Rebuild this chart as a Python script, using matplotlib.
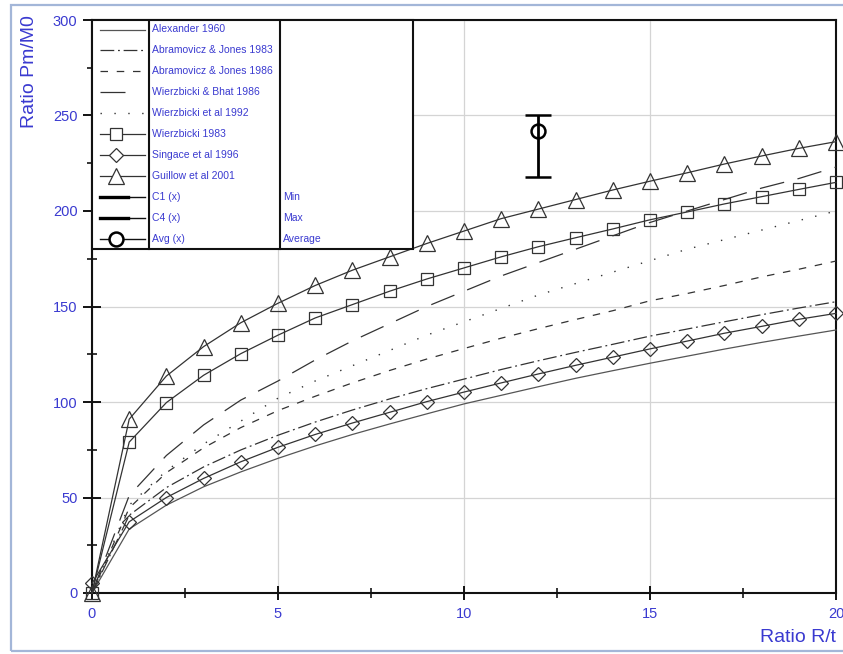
import matplotlib.pyplot as plt
from matplotlib.patches import Rectangle
from matplotlib.lines import Line2D

plt.rcParams['font.family'] = ['Liberation Sans', 'DejaVu Sans']

# collapse load ratio Pm/M0 against tube ratio R/t
ratio_rt = list(range(21))

alexander_1960 = [0, 33.5, 46, 55.6, 63.4, 70.5, 77, 83, 88.5, 93.8, 99, 103.5,
                  108, 112.4, 116.4, 120.3, 124, 127.7, 131.2, 134.5, 137.7]
abramowicz_jones_1983 = [0, 40.7, 55.2, 66, 74.9, 82.6, 89.5, 95.8, 101.6, 107, 112,
                         117, 121.6, 126, 130.2, 134.5, 138.2, 142, 145.7, 149.2, 152.5]
abramowicz_jones_1986 = [0, 44.5, 63, 76, 86.6, 95.5, 103, 110, 116.5, 122.5, 128,
                         133.4, 138.4, 143.2, 147.8, 153, 156.8, 161, 165.5, 169.5, 173.8]
wierzbicki_bhat_1986 = [0, 51, 72, 88, 101, 111, 122, 132, 141, 150, 158, 166,
                        173, 180, 187, 194, 200, 206, 212, 217, 223]
wierzbicki_1992 = [0, 46, 64, 78, 90, 102, 111, 119, 127, 135, 142, 149,
                   156, 162, 168, 174, 180, 185, 190, 195, 200]
wierzbicki_1983 = [0, 79, 99.7, 114, 125.3, 135, 144, 151, 158, 164.4, 170.2, 176,
                   181.3, 186, 190.6, 195.4, 199.5, 203.7, 207.5, 211.3, 215]
singace_1996 = [5, 37.3, 50, 60, 68.7, 76.3, 83, 89, 94.6, 100.2, 105.2, 110,
                114.7, 119.2, 123.5, 127.8, 131.9, 136, 139.6, 143.3, 146.4]
guillow_2001 = [0, 91, 113.6, 129, 141.5, 151.7, 161, 169, 176, 183, 189.5, 196,
                201, 206, 211, 215.6, 220, 224.6, 228.8, 232.8, 236.3]

# experimental result: average with min (C1) and max (C4)
test_rt = 12
test_min = 218
test_max = 250
test_avg = 242

series_names = ["Alexander 1960", "Abramovicz & Jones 1983", "Abramovicz & Jones 1986",
                "Wierzbicki & Bhat 1986", "Wierzbicki et al 1992", "Wierzbicki 1983",
                "Singace et al 1996", "Guillow et al 2001"]
series_values = [alexander_1960, abramowicz_jones_1983, abramowicz_jones_1986,
                 wierzbicki_bhat_1986, wierzbicki_1992, wierzbicki_1983,
                 singace_1996, guillow_2001]
test_names = ["C1 (x)", "C4 (x)", "Avg (x)"]
test_notes = ["Min", "Max", "Average"]

blue = '#3a3ad0'
ink = '#333333'
series_styles = [
    dict(color='#555555', lw=0.9, ls='-'),
    dict(color=ink, lw=0.9, ls=(0, (11, 3, 1.5, 3))),
    dict(color=ink, lw=0.9, ls=(0, (6, 7))),
    dict(color=ink, lw=0.9, ls=(0, (20, 11))),
    dict(color=ink, lw=1.0, ls=(0, (1, 9))),
    dict(color=ink, lw=0.9, ls='-', marker='s', ms=8, mfc='none', mec=ink, mew=0.9),
    dict(color=ink, lw=0.9, ls='-', marker='D', ms=7.5, mfc='none', mec=ink, mew=0.9),
    dict(color=ink, lw=0.9, ls='-', marker='^', ms=12, mfc='none', mec=ink, mew=0.9),
]

fig = plt.figure(figsize=(8.43, 6.54), dpi=100)
ax = fig.add_axes([92 / 843, 61 / 654, 744 / 843, 573 / 654])

for vals, style in zip(series_values, series_styles):
    ax.plot(ratio_rt, vals, **style, zorder=3, clip_on=False)

ax.errorbar([test_rt], [test_avg],
            yerr=[[test_avg - test_min], [test_max - test_avg]],
            fmt='o', ms=10, mfc='none', mec='black', mew=1.8, color='black',
            elinewidth=2, capsize=9.5, capthick=2, zorder=4)

ax.set_xlim(0, 20)
ax.set_ylim(0, 300)
ax.set_xticks([0, 5, 10, 15, 20])
ax.set_xticks([2.5, 7.5, 12.5, 17.5], minor=True)
ax.set_yticks(range(0, 301, 50))
ax.set_yticks(range(25, 300, 50), minor=True)
ax.grid(True, which='major', color='#d4d4d4', lw=0.9, zorder=0)
ax.set_axisbelow(True)

for side in ['left', 'bottom', 'top', 'right']:
    ax.spines[side].set_linewidth(1.5)
    ax.spines[side].set_color('#111111')

ax.tick_params(axis='y', which='major', direction='inout', length=13, width=1.3,
               labelsize=10.5, labelcolor=blue, pad=4)
ax.tick_params(axis='y', which='minor', direction='inout', length=7, width=1.1)
ax.tick_params(axis='x', which='major', direction='inout', length=10, width=1.3,
               labelsize=10.5, labelcolor=blue, pad=5)
ax.tick_params(axis='x', which='minor', direction='inout', length=7, width=1.1)

ax.text(-62 / 744, 1.009, "Ratio Pm/M0", rotation=90, ha='center', va='top',
        fontsize=14, color=blue, transform=ax.transAxes)
ax.text(1.0, -44 / 573, "Ratio R/t", ha='right', va='center',
        fontsize=14, color=blue, transform=ax.transAxes)

# boxed key: sample | name | note
def ax_x(px):
    return (px - 92) / 744


def ax_y(py):
    return (593 - py) / 573


key_right = 413
key_bottom = 249
ax.add_patch(Rectangle((0, ax_y(key_bottom)), ax_x(key_right), 1 - ax_y(key_bottom),
                       transform=ax.transAxes, facecolor='white', edgecolor='#111111',
                       lw=1.5, zorder=6, clip_on=False))
for px in [149, 280]:
    ax.add_line(Line2D([ax_x(px), ax_x(px)], [ax_y(key_bottom), 1], transform=ax.transAxes,
                       color='#111111', lw=1.5, zorder=7))

row_top = 29.5
row_step = 20.95
for i, (name, style) in enumerate(zip(series_names, series_styles)):
    y = ax_y(row_top + i * row_step)
    plain = {k: v for k, v in style.items() if k not in ('marker', 'ms', 'mfc', 'mec', 'mew')}
    x1 = 133 if i == 3 else 145
    ax.add_line(Line2D([ax_x(100), ax_x(x1)], [y, y], transform=ax.transAxes, zorder=7, **plain))
    if 'marker' in style:
        ax.add_line(Line2D([ax_x(115.5)], [y], transform=ax.transAxes, zorder=8, ls='none',
                           marker=style['marker'], ms=style['ms'], mfc='white',
                           mec=style['mec'], mew=style['mew']))
    ax.text(ax_x(152), y, name, fontsize=7.5, color=blue, va='center',
            transform=ax.transAxes, zorder=8)

for j, (name, note) in enumerate(zip(test_names, test_notes)):
    y = ax_y(row_top + (len(series_names) + j) * row_step)
    ax.add_line(Line2D([ax_x(100), ax_x(145)], [y, y], transform=ax.transAxes,
                       color='#111111', lw=1.0, zorder=7))
    if j < 2:
        ax.add_line(Line2D([ax_x(100), ax_x(128)], [y, y], transform=ax.transAxes,
                           color='black', lw=2.4, zorder=8))
    else:
        ax.add_line(Line2D([ax_x(115.5)], [y], transform=ax.transAxes, ls='none',
                           marker='o', ms=10, mfc='white', mec='black', mew=1.8, zorder=8))
    ax.text(ax_x(152), y, name, fontsize=7.5, color=blue, va='center',
            transform=ax.transAxes, zorder=8)
    ax.text(ax_x(283), y, note, fontsize=7.5, color=blue, va='center',
            transform=ax.transAxes, zorder=8)

# outer frame of the panel
fig.patches.append(Rectangle((11 / 843, 3 / 654), 840 / 843, 646 / 654,
                             transform=fig.transFigure, fill=False,
                             edgecolor='#a3b6d8', lw=1.6))

fig.savefig('out.png', dpi=100)
